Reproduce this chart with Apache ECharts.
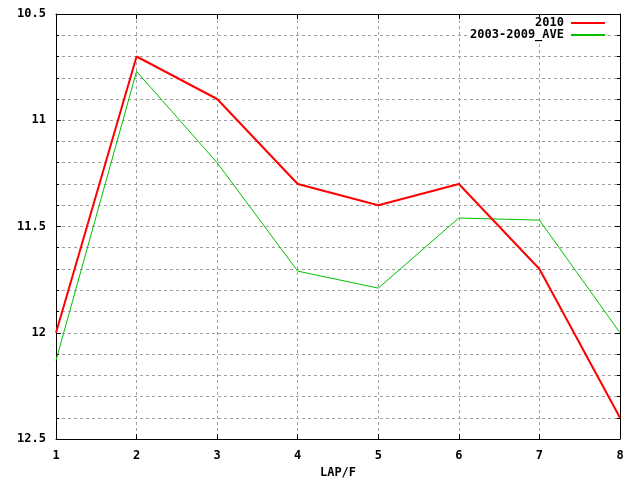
<!DOCTYPE html>
<html>
<head>
<meta charset="utf-8">
<script src="https://cdn.jsdelivr.net/npm/echarts@6/dist/echarts.min.js"></script>
<style>html,body{margin:0;padding:0;background:#fff}#c{width:640px;height:480px}</style>
</head>
<body>
<div id="c"></div>
<script>
const laps = [1, 2, 3, 4, 5, 6, 7, 8];
const series2010 = [12.0, 10.7, 10.9, 11.3, 11.4, 11.3, 11.7, 12.4];
const seriesAve = [12.13, 10.77, 11.2, 11.71, 11.79, 11.46, 11.47, 12.0];
const names = ['2010', '2003-2009_AVE'];
const xName = 'LAP/F';

const font = { fontFamily: 'DejaVu Sans Mono', fontWeight: 'bold', fontSize: 12, color: '#000' };
const gridLine = { color: '#a0a0a0', width: 1, type: [3, 3] };
const axisLine = { show: true, lineStyle: { color: '#000', width: 1 } };

const chart = echarts.init(document.getElementById('c'), null, { renderer: 'canvas' });
chart.setOption({
  animation: false,
  backgroundColor: '#fff',
  grid: { left: 56, right: 20, top: 14, bottom: 41, containLabel: false, outerBoundsMode: 'none' },
  legend: {
    orient: 'vertical', right: 34, top: 17, padding: 0, itemGap: 0,
    align: 'right', itemWidth: 34, itemHeight: 13,
    backgroundColor: '#fff',
    itemStyle: { opacity: 0 },
    textStyle: Object.assign({}, font, { padding: [0, 2, 0, 0] }),
    data: names
  },
  xAxis: [{
    type: 'value', min: 1, max: 8, interval: 1, position: 'bottom',
    name: xName, nameLocation: 'middle', nameGap: 28, nameTextStyle: font,
    axisLine: axisLine,
    axisTick: { show: true, inside: true, length: 5, lineStyle: { color: '#000' } },
    axisLabel: Object.assign({ margin: 11 }, font),
    splitLine: { show: true, lineStyle: gridLine }
  }, {
    type: 'value', min: 1, max: 8, interval: 1, position: 'top',
    axisLine: axisLine,
    axisTick: { show: true, inside: true, length: 5, lineStyle: { color: '#000' } },
    axisLabel: { show: false }, splitLine: { show: false }
  }],
  yAxis: [{
    type: 'value', inverse: true, min: 10.5, max: 12.5, interval: 0.5, position: 'left',
    axisLine: axisLine,
    axisTick: { show: true, inside: true, length: 5, lineStyle: { color: '#000' } },
    minorTick: { show: true, splitNumber: 5, length: 3, lineStyle: { color: '#000' } },
    axisLabel: Object.assign({ margin: 10 }, font),
    splitLine: { show: true, lineStyle: gridLine },
    minorSplitLine: { show: true, lineStyle: gridLine }
  }, {
    type: 'value', inverse: true, min: 10.5, max: 12.5, interval: 0.5, position: 'right',
    axisLine: axisLine,
    axisTick: { show: true, inside: true, length: 5, lineStyle: { color: '#000' } },
    minorTick: { show: true, splitNumber: 5, length: 3, lineStyle: { color: '#000' } },
    axisLabel: { show: false }, splitLine: { show: false }
  }],
  series: [{
    name: names[0], type: 'line', symbol: 'none',
    data: laps.map((l, i) => [l, series2010[i]]),
    lineStyle: { color: '#ff0000', width: 2 }, itemStyle: { color: '#ff0000' }, z: 3
  }, {
    name: names[1], type: 'line', symbol: 'none',
    data: laps.map((l, i) => [l, seriesAve[i]]),
    lineStyle: { color: '#00c000', width: 1 }, itemStyle: { color: '#00c000' }, z: 2
  }]
});
</script>
</body>
</html>
